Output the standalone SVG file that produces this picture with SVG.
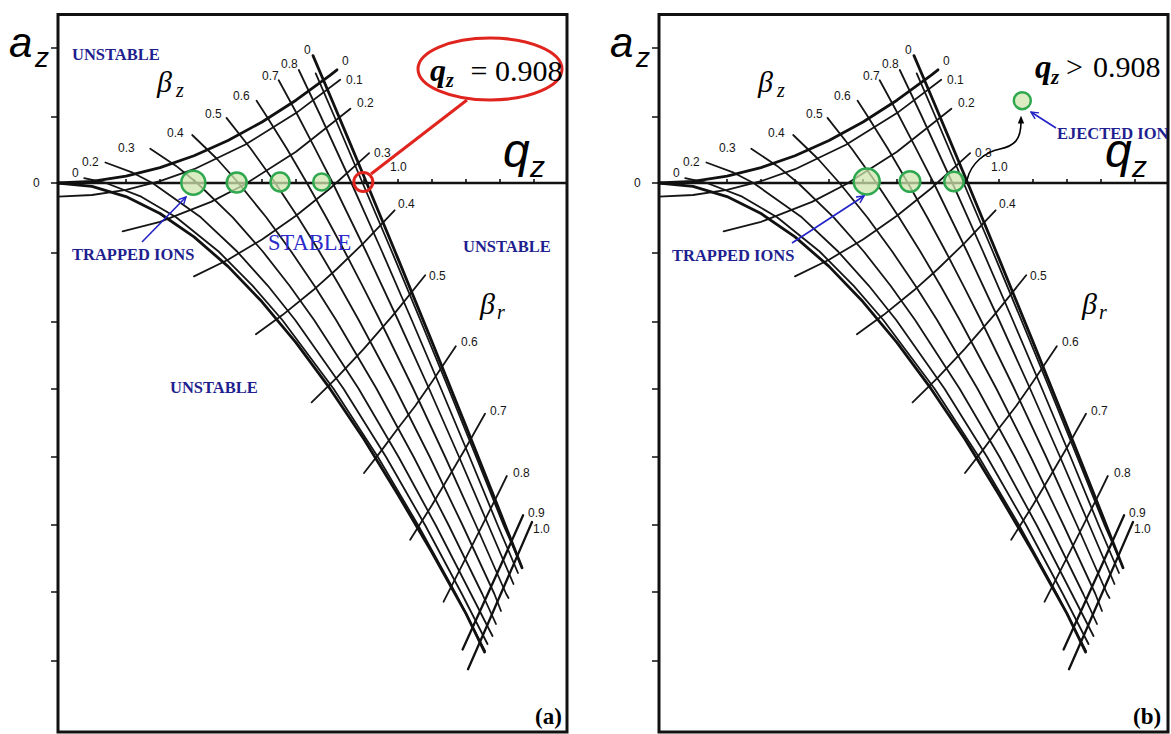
<svg xmlns="http://www.w3.org/2000/svg" xmlns:xlink="http://www.w3.org/1999/xlink" width="1171" height="734" viewBox="0 0 1171 734">
<style>
.frame{fill:none;stroke:#111;stroke-width:3}
.axl{fill:none;stroke:#111;stroke-width:2.6}
.tick{fill:none;stroke:#111;stroke-width:1.6}
.g{fill:none;stroke:#151515;stroke-width:1.8;stroke-linejoin:round;stroke-linecap:round}
.gb{fill:none;stroke:#111;stroke-width:2.8;stroke-linejoin:round;stroke-linecap:round}
.gm{fill:none;stroke:#111;stroke-width:2.3;stroke-linejoin:round;stroke-linecap:round}
.lbl{font-family:"Liberation Sans",Arial,sans-serif;font-size:12px;fill:#161616}
.axt{font-family:"Liberation Sans",Arial,sans-serif;font-style:italic;fill:#000}
.gk{font-family:"Liberation Serif","Times New Roman",serif;font-style:italic;fill:#000}
.nav{font-family:"Liberation Serif","Times New Roman",serif;font-weight:bold;font-size:16.5px;fill:#1f1f8f}
.stb{font-family:"Liberation Serif","Times New Roman",serif;font-size:22.5px;fill:#2b2bc9}
.eq{font-family:"Liberation Serif","Times New Roman",serif;font-size:30px;fill:#000}
.pl{font-family:"Liberation Serif","Times New Roman",serif;font-weight:bold;font-size:23px;fill:#000}
.ion{fill:#cfe6ad;fill-opacity:0.75;stroke:#2fa84f;stroke-width:2.5}
.red{fill:none;stroke:#e0251f;stroke-width:3}
.blue{fill:none;stroke:#2323c8;stroke-width:1.6}
</style>
<defs>
<marker id="ab" viewBox="0 0 10 10" refX="9" refY="5" markerWidth="9" markerHeight="9" markerUnits="userSpaceOnUse" orient="auto"><path d="M1,1 L9,5 L1,9" fill="none" stroke="#2323c8" stroke-width="1.6"/></marker>
<marker id="ak" viewBox="0 0 10 10" refX="2" refY="5" markerWidth="8" markerHeight="8" markerUnits="userSpaceOnUse" orient="auto"><path d="M0,1 L10,5 L0,9 z" fill="#000"/></marker>
<g id="plot">
<rect class="frame" x="58" y="14.5" width="509" height="717.5"/>
<path class="tick" d="M51,48H58M51,117H58M51,183H58M51,253H58M51,322H58M51,389H58M51,457H58M51,525H58M51,592H58M51,661H58"/>
<path class="axl" d="M58,183H567"/>
<path class="tick" d="M92,183V179M126,183V179M160,183V179M194,183V179M228,183V179M262,183V179M296,183V179M330,183V179M364,183V179M398,183V179M432,183V179M466,183V179M500,183V179M534,183V179"/>
<path class="g" d="M84.2,178.2 L105.9,183 L141.2,196.7 L176.1,217.3 L218.6,251.5 L252.7,285.8 L282.3,320 L333.4,388.5 L377.9,457 L418.3,525.5 L455.9,594 L485,651"/>
<path class="g" d="M105.4,162.5 L132.7,172.7 L152.5,183 L200.8,217.3 L237.1,251.5 L267.9,285.8 L295.2,320 L343.4,388.5 L386.1,457 L425.3,525.5 L461.9,594 L487.5,644"/>
<path class="g" d="M150.3,148.8 L176.1,165.9 L197.1,183 L232.7,217.3 L262.8,251.5 L289.6,285.8 L314.1,320 L358.5,388.5 L398.6,457 L435.9,525.5 L471,594 L492.5,636"/>
<path class="g" d="M192.2,135 L217.1,159 L238.5,183 L266.2,217.3 L291.2,251.5 L314.4,285.8 L336.1,320 L376.4,388.5 L413.7,457 L448.8,525.5 L482.3,594 L496,624"/>
<path class="g" d="M226.5,117.9 L250.8,148.8 L275.3,183 L298,217.3 L319.3,251.5 L339.5,285.8 L358.7,320 L395.3,388.5 L429.8,457 L462.7,525.5 L494.4,594 L501,611"/>
<path class="g" d="M256.6,100.8 L265.5,114.5 L286.9,148.8 L306.9,183 L326.2,217.3 L344.7,251.5 L362.5,285.8 L379.8,320 L413.2,388.5 L445.2,457 L476.1,525.5 L506.2,594 L508.5,598"/>
<path class="g" d="M278.7,80.3 L297.3,114.5 L315.2,148.8 L332.7,183 L366,251.5 L398,320 L429,388.5 L459.1,457 L488.5,525.5 L513.5,584"/>
<path class="g" d="M298.8,70 L319.9,114.5 L351.4,183 L382,251.5 L411.7,320 L440.9,388.5 L469.6,457 L497.8,525.5 L518,573"/>
<path class="g" d="M315.7,73.4 L333.5,114.5 L362.6,183 L391.8,251.5 L420.3,320 L448.5,388.5 L476.2,457 L503.7,525.5 L521.5,566"/>
<path class="g" d="M58,196.7 L92,195 L126,189.8 L160,181.2 L194,169.2 L245,144.8 L296,113.1 L340.2,79.8"/>
<path class="g" d="M122.6,231.4 L160,221.8 L211,201.9 L245,184.3 L296,151.7 L350.4,108.7"/>
<path class="g" d="M194,276.4 L228,259.7 L262,239.4 L296,215.7 L330,188.5 L369.1,153.2"/>
<path class="g" d="M255.9,334.2 L282.4,315.1 L313,290.3 L336.8,269 L364,242.6 L394.6,210.3"/>
<path class="g" d="M311.6,402.4 L336.8,377.7 L364,348.7 L394.6,313.4 L425.2,275.2"/>
<path class="g" d="M364,473 L381,451.1 L398,428.2 L415,406.3 L432,381.7 L455.8,346.2"/>
<path class="g" d="M410.2,539.7 L432,505 L449,476.5 L466,447.5 L485,413.8"/>
<path class="g" d="M443.6,601.7 L466,557.7 L483,523.9 L500,490 L506.8,476"/>
<path class="gm" d="M462.6,649.5 L483,604.5 L500,567 L523.1,515.2"/>
<path class="gm" d="M468,669.2 L483,635 L500,595.8 L517,556.6 L532,522"/>
<path class="gb" d="M58,183 L92,186.4 L126,196.6 L160,213.5 L194,236.9 L228,266.4 L262,301.8 L296,342.7 L330,388.7 L364,439.3 L398,494.7 L432,552.5 L466,613.6 L484.5,652"/>
<path class="gb" d="M313,55.6 L330,95.5 L347,135.9 L366.7,183 L398,258.6 L432,341.9 L466,426.2 L500,511.8 L522,567.8"/>
<path class="gb" d="M58,183 L92,181.3 L126,176.2 L160,167.6 L194,155.7 L228,140.5 L262,122 L296,100.2 L330,75.3 L337,69.8"/>
</g>
</defs>
<rect width="1171" height="734" fill="#fff"/>

<g id="panel-a">
<use xlink:href="#plot" href="#plot"/>
<g id="labels-a" class="lbl">
<text x="33" y="187">0</text>
<text x="72" y="177">0</text><text x="82" y="166">0.2</text><text x="118" y="152">0.3</text><text x="167" y="137">0.4</text><text x="205" y="118">0.5</text><text x="233" y="100">0.6</text><text x="262" y="80">0.7</text><text x="281" y="68">0.8</text><text x="304" y="54">0</text>
<text x="342" y="65">0</text><text x="346" y="84">0.1</text><text x="357" y="107">0.2</text><text x="374" y="157">0.3</text><text x="390" y="171">1.0</text><text x="398" y="208">0.4</text><text x="429" y="280">0.5</text><text x="461" y="346">0.6</text><text x="490" y="415">0.7</text><text x="513" y="477">0.8</text><text x="528" y="517">0.9</text><text x="533" y="533">1.0</text>
</g>
<text class="axt" x="9" y="57" font-size="42">a<tspan x="35" y="67" font-size="28">z</tspan></text>
<text class="axt" x="503" y="167" font-size="48">q<tspan x="530" y="177" font-size="30">z</tspan></text>
<text class="gk" x="157" y="92" font-size="30">β<tspan x="176" y="97" font-size="20">z</tspan></text>
<text class="gk" x="480" y="314" font-size="30">β<tspan x="497" y="319" font-size="20">r</tspan></text>
<text class="nav" x="72" y="60">UNSTABLE</text>
<text class="nav" x="463" y="252">UNSTABLE</text>
<text class="nav" x="170" y="393">UNSTABLE</text>
<text class="stb" x="268" y="250">STABLE</text>
<text class="nav" x="72" y="260">TRAPPED IONS</text>
<text class="pl" x="535" y="724">(a)</text>
<g id="ions-a">
<circle class="ion" cx="193.3" cy="182.7" r="12"/>
<circle class="ion" cx="236.7" cy="182.5" r="10"/>
<circle class="ion" cx="280" cy="182" r="9.5"/>
<circle class="ion" cx="321.7" cy="182" r="8.5"/>
<circle class="red" cx="363.3" cy="182" r="9.5" stroke-width="2.6"/>
</g>
<g id="callout-a">
<ellipse class="red" cx="490" cy="69" rx="72" ry="31"/>
<text class="eq" x="430" y="81"><tspan font-style="italic" font-weight="bold" font-size="32">q</tspan><tspan x="446" y="87" font-style="italic" font-weight="bold" font-size="20">z</tspan><tspan x="463" y="81"> = 0.908</tspan></text>
</g>
</g>

<g id="panel-b">
<use xlink:href="#plot" href="#plot" transform="translate(601,0)"/>
<g id="labels-b" class="lbl" transform="translate(601,0)">
<text x="33" y="187">0</text>
<text x="72" y="177">0</text><text x="82" y="166">0.2</text><text x="118" y="152">0.3</text><text x="167" y="137">0.4</text><text x="205" y="118">0.5</text><text x="233" y="100">0.6</text><text x="262" y="80">0.7</text><text x="281" y="68">0.8</text><text x="304" y="54">0</text>
<text x="342" y="65">0</text><text x="346" y="84">0.1</text><text x="357" y="107">0.2</text><text x="374" y="157">0.3</text><text x="390" y="171">1.0</text><text x="398" y="208">0.4</text><text x="429" y="280">0.5</text><text x="461" y="346">0.6</text><text x="490" y="415">0.7</text><text x="513" y="477">0.8</text><text x="528" y="517">0.9</text><text x="533" y="533">1.0</text>
</g>
<text class="axt" x="610" y="57" font-size="42">a<tspan x="636" y="67" font-size="28">z</tspan></text>
<text class="axt" x="1105" y="167" font-size="48">q<tspan x="1132" y="177" font-size="30">z</tspan></text>
<text class="gk" x="758" y="92" font-size="30">β<tspan x="777" y="97" font-size="20">z</tspan></text>
<text class="gk" x="1082" y="314" font-size="30">β<tspan x="1099" y="319" font-size="20">r</tspan></text>
<text class="eq" x="1035" y="78"><tspan font-style="italic" font-weight="bold" font-size="33">q</tspan><tspan x="1051" y="84" font-style="italic" font-weight="bold" font-size="21">z</tspan><tspan x="1066" y="77">&gt;</tspan><tspan x="1093" y="77">0.908</tspan></text>
<text class="nav" x="1057" y="139" font-size="16">EJECTED ION</text>
<text class="nav" x="672" y="261">TRAPPED IONS</text>
<text class="pl" x="1133" y="724">(b)</text>
<g id="ions-b">
<circle class="ion" cx="866.7" cy="181.5" r="13"/>
<circle class="ion" cx="910" cy="181.5" r="10.3"/>
<circle class="ion" cx="954" cy="181.5" r="9.7"/>
<circle class="ion" cx="1022.3" cy="100.7" r="8.5"/>
</g>
</g>

<g id="connectors">
<path class="blue" d="M142,242 L186,197" marker-end="url(#ab)"/>
<path class="red" d="M371,174 L467,100" stroke-width="2.6"/>
<path class="blue" d="M792,243 L864,196" marker-end="url(#ab)"/>
<path class="blue" d="M1056,128 L1031,112" marker-end="url(#ab)"/>
<path d="M967,180 C971,163 985,152 1000,149 C1014,146 1021,140 1021,122" fill="none" stroke="#000" stroke-width="1.6" marker-end="url(#ak)"/>
</g>
</svg>
